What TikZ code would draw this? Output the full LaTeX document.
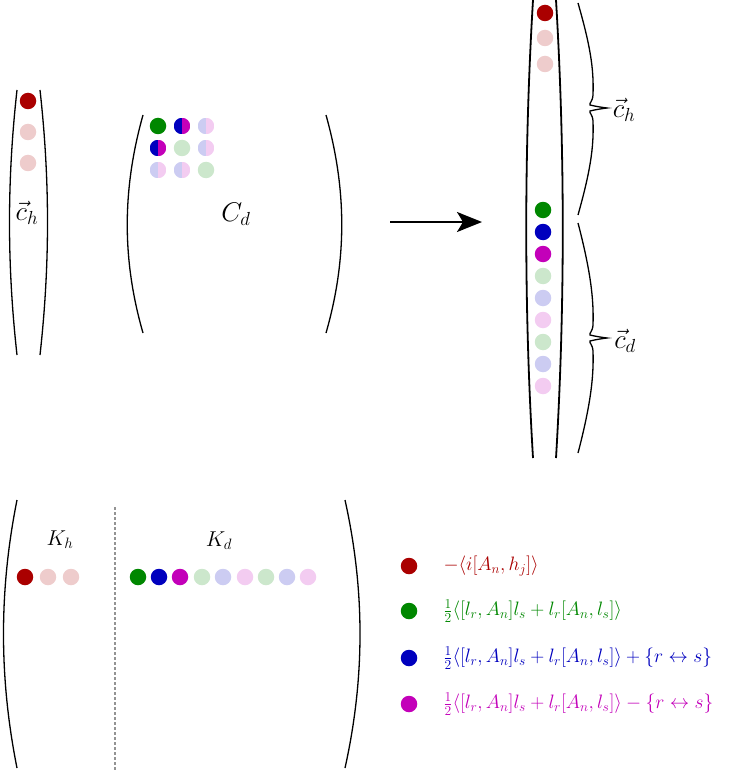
\documentclass[tikz,border=0pt]{standalone}
\usepackage{fix-cm}
\usetikzlibrary{arrows.meta}
\definecolor{hred}{RGB}{170,0,0}
\definecolor{hgreen}{RGB}{0,135,0}
\definecolor{hblue}{RGB}{0,0,190}
\definecolor{hmag}{RGB}{195,0,185}
\colorlet{pred}{hred!20}
\colorlet{pgreen}{hgreen!20}
\colorlet{pblue}{hblue!20}
\colorlet{pmag}{hmag!20}
\newcommand\CurlyBrace[4]{% x0, ytop, ymid, ybot
  \draw[bracestyle] (#1,#2) .. controls ({#1+12},{#2+0.4*(#3-#2)}) and ({#1+16},{#3-40}) .. ({#1+15},{#3-13})
    .. controls ({#1+14.5},{#3-6}) and ({#1+11},{#3-5}) .. ({#1+12},{#3-3})
    .. controls ({#1+18},{#3-1.5}) and ({#1+25},{#3-0.5}) .. ({#1+29},{#3})
    .. controls ({#1+25},{#3+0.5}) and ({#1+18},{#3+1.5}) .. ({#1+12},{#3+3})
    .. controls ({#1+11},{#3+5}) and ({#1+14.5},{#3+6}) .. ({#1+15},{#3+13})
    .. controls ({#1+16},{#3+40}) and ({#1+12},{#4-0.4*(#4-#3)}) .. (#1,#4);}
\begin{document}
\begin{tikzpicture}[x=1pt,y=-1pt,
  dot/.style={circle,inner sep=0pt,minimum size=16.5pt,fill=#1},
  halfdot/.style 2 args={circle,inner sep=0pt,minimum size=16.5pt,path picture={
     \fill[#1] (path picture bounding box.north west) rectangle (path picture bounding box.south);
     \fill[#2] (path picture bounding box.north) rectangle (path picture bounding box.south east);}},
  thinparen/.style={line width=1.3pt},
  thickparen/.style={line width=1.8pt},
  bracestyle/.style={line width=1.3pt},
  biglabel/.style={font=\fontsize{27}{31}\selectfont},
  klabel/.style={font=\fontsize{21.5}{25}\selectfont},
  legtext/.style={font=\fontsize{19.4}{23}\selectfont,anchor=west,text=#1},
]
\useasboundingbox (0,0) rectangle (732,770);

% ---- left vector c_h
\draw[thinparen] (17,90) .. controls (7,180) and (7,265) .. (17,355);
\draw[thinparen] (40,90) .. controls (50,180) and (50,265) .. (40,355);
\node[dot=hred] (lh1) at (28,101) {};
\node[dot=pred] (lh2) at (28,132) {};
\node[dot=pred] (lh3) at (28,163) {};
\node[biglabel] (lch) at (27,213) {$\vec{c}_h$};

% ---- C_d matrix
\draw[thinparen] (143,115) .. controls (122,190) and (122,260) .. (143,333);
\draw[thinparen] (326,115) .. controls (347,190) and (347,260) .. (326,333);
\node[dot=hgreen] (c11) at (158,126) {};
\node[halfdot={hblue}{hmag}] (c12) at (182,126) {};
\node[halfdot={pblue}{pmag}] (c13) at (206,126) {};
\node[halfdot={hblue}{hmag}] (c21) at (158,148) {};
\node[dot=pgreen] (c22) at (182,148) {};
\node[halfdot={pblue}{pmag}] (c23) at (206,148) {};
\node[halfdot={pblue}{pmag}] (c31) at (158,170) {};
\node[halfdot={pblue}{pmag}] (c32) at (182,170) {};
\node[dot=pgreen] (c33) at (206,170) {};
\node[biglabel] (cd) at (236,214) {$C_d$};

% ---- arrow
\coordinate (arS) at (390,222);
\coordinate (arE) at (482,222);
\draw[line width=2pt,-{Stealth[length=25pt,width=20pt,inset=6pt]}] (arS) -- (arE);

% ---- right vector
\draw[thickparen] (533,0) .. controls (524,150) and (524,308) .. (533,458);
\draw[thickparen] (556,0) .. controls (565,150) and (565,308) .. (556,458);
\node[dot=hred] (r1) at (545,13) {};
\node[dot=pred] (r2) at (545,38) {};
\node[dot=pred] (r3) at (545,64) {};
\node[dot=hgreen] (r4) at (543,210) {};
\node[dot=hblue] (r5) at (543,232) {};
\node[dot=hmag] (r6) at (543,254) {};
\node[dot=pgreen] (r7) at (543,276) {};
\node[dot=pblue] (r8) at (543,298) {};
\node[dot=pmag] (r9) at (543,320) {};
\node[dot=pgreen] (r10) at (543,342) {};
\node[dot=pblue] (r11) at (543,364) {};
\node[dot=pmag] (r12) at (543,386) {};
\CurlyBrace{578}{3}{108}{215}
\CurlyBrace{578}{223}{338}{453}
\node[biglabel] (rch) at (624,110) {$\vec{c}_h$};
\node[biglabel] (rcd) at (625,341) {$\vec{c}_d$};

% ---- K matrix
\draw[thinparen] (17,500) .. controls (-1,590) and (-1,678) .. (17,768);
\draw[thinparen] (345,500) .. controls (365,590) and (365,678) .. (345,768);
\coordinate (dT) at (115,507);
\coordinate (dB) at (115,770);
\draw[gray!85,line width=1.2pt,dash pattern=on 2.5pt off 2.5pt] (dT) -- (dB);
\node[klabel] (kh) at (60,540) {$K_h$};
\node[klabel] (kd) at (219,541) {$K_d$};
\node[dot=hred] (k1) at (25,577) {};
\node[dot=pred] (k2) at (48,577) {};
\node[dot=pred] (k3) at (71,577) {};
\node[dot=hgreen] (k4) at (138,577) {};
\node[dot=hblue] (k5) at (159,577) {};
\node[dot=hmag] (k6) at (180,577) {};
\node[dot=pgreen] (k7) at (202,577) {};
\node[dot=pblue] (k8) at (223,577) {};
\node[dot=pmag] (k9) at (245,577) {};
\node[dot=pgreen] (k10) at (266,577) {};
\node[dot=pblue] (k11) at (287,577) {};
\node[dot=pmag] (k12) at (308,577) {};

% ---- legend
\node[dot=hred] (l1) at (409,566) {};
\node[dot=hgreen] (l2) at (409,611) {};
\node[dot=hblue] (l3) at (409,658) {};
\node[dot=hmag] (l4) at (409,704) {};
\node[legtext=hred] (t1) at (440,566) {$-\langle i[A_n,h_j]\rangle$};
\node[legtext=hgreen] (t2) at (440,611) {$\frac{1}{2}\langle[l_r,A_n]l_s+l_r[A_n,l_s]\rangle$};
\node[legtext=hblue] (t3) at (440,658) {$\frac{1}{2}\langle[l_r,A_n]l_s+l_r[A_n,l_s]\rangle+\{r\leftrightarrow s\}$};
\node[legtext=hmag] (t4) at (440,704) {$\frac{1}{2}\langle[l_r,A_n]l_s+l_r[A_n,l_s]\rangle-\{r\leftrightarrow s\}$};
\end{tikzpicture}
\end{document}
